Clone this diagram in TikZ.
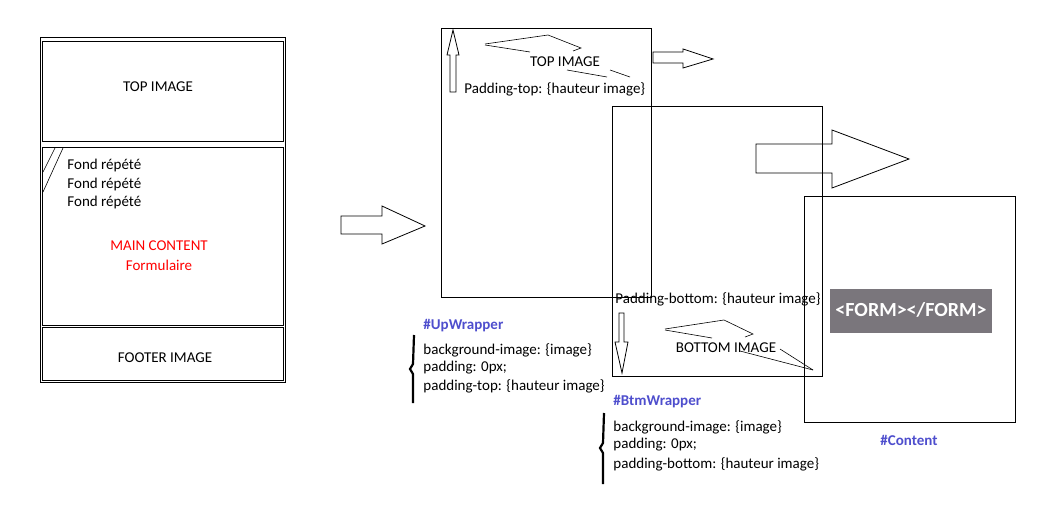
\documentclass[tikz,border=0pt]{standalone}
\usepackage{fontspec}
\setmainfont{Carlito}
\usetikzlibrary{calc}
\definecolor{cssblue}{RGB}{78,78,205}
\definecolor{formgray}{RGB}{122,118,124}

\begin{document}
\begin{tikzpicture}[x=1pt, y=-1pt, line width=0.9pt,
  every node/.style={font=\fontsize{15}{17}\selectfont, inner sep=0pt},
  txt/.style={anchor=west},
  cssid/.style={anchor=west, text=cssblue, font=\fontsize{15}{17}\selectfont\bfseries},
  blockarrow/.style={line width=0.8pt, line join=miter},
  scribble/.style={line width=0.6pt}]
  \useasboundingbox (0,0) rectangle (1048,508);

  % maquette de gauche
  \draw (40,37) rectangle (285,382);
  \draw (42,41) rectangle (283,141);
  \draw (42,147) rectangle (283,325);
  \draw (42,327) rectangle (283,380);
  \draw[line width=0.6pt] (55,148) -- (43,172);
  \draw[line width=0.6pt] (63,148) -- (43,192);
  \node (topimg) at (158,87) {TOP IMAGE};
  \node[txt] (fond1) at (67,166) {Fond répété};
  \node[txt] (fond2) at (67,184) {Fond répété};
  \node[txt] (fond3) at (67,202) {Fond répété};
  \node[text=red] (main) at (159,246) {MAIN CONTENT};
  \node[text=red] (formu) at (159,265) {Formulaire};
  \node (footer) at (165,358) {FOOTER IMAGE};

  % fleche vers la decomposition
  \draw[blockarrow] (341,216) -- (382,216) -- (382,206) -- (425,226)
    -- (382,244) -- (382,234) -- (341,234) -- cycle;

  % #UpWrapper
  \draw (441,28) rectangle (651,297);
  \draw[blockarrow] (450,92) -- (450,55) -- (447,55) -- (453,30)
    -- (459,55) -- (456,55) -- (456,92) -- cycle;
  \draw[scribble] (485,44) -- (548,35) -- (581,48) -- (573,51);
  \draw[scribble] (485,45) -- (530,52);
  \draw[scribble] (567,70) -- (607,77);
  \draw[scribble] (610,70) -- (630,77);
  \node (upimg) at (565,62) {TOP IMAGE};
  \node[txt] (padtop) at (464,89) {Padding-top: \{hauteur image\}};
  \draw[blockarrow] (653,52) -- (683,52) -- (683,49) -- (713,59)
    -- (683,68) -- (683,63) -- (653,63) -- cycle;

  % #BtmWrapper
  \draw (612,106) rectangle (822,376);
  \draw[blockarrow] (619,313) -- (624,313) -- (624,342) -- (628,342)
    -- (622,373) -- (615,342) -- (619,342) -- cycle;
  \draw[scribble] (665,329) -- (724,320) -- (753,334) -- (745,337);
  \draw[scribble] (665,330) -- (712,338);
  \draw[scribble] (740,351) -- (813,370);
  \draw[scribble] (780,349) -- (813,370);
  \node (btmimg) at (726,348) {BOTTOM IMAGE};
  \node[txt] (padbtm) at (615,299) {Padding-bottom: \{hauteur image\}};
  \draw[blockarrow] (756,144) -- (832,144) -- (832,130) -- (909,159)
    -- (832,188) -- (832,173) -- (756,173) -- cycle;

  % #Content
  \draw (804,196) rectangle (1015,422);
  \fill[formgray] (830,289) rectangle (992,333);
  \node[text=white, font=\fontsize{20}{22}\selectfont\bfseries] (form) at (911,310) {<FORM></FORM>};
  \node[text=cssblue, font=\fontsize{15}{17}\selectfont\bfseries] (content) at (909,440) {\#Content};

  % regles css
  \node[cssid] (upid) at (423,326) {\#UpWrapper};
  \draw[line width=2.2pt] (414,335) -- (413,364) -- (410,369) -- (413,374) -- (413,403);
  \node[txt] (up1) at (423,350) {background-image: \{image\}};
  \node[txt] (up2) at (423,368) {padding: 0px;};
  \node[txt] (up3) at (423,386) {padding-top: \{hauteur image\}};

  \node[cssid] (btmid) at (613,402) {\#BtmWrapper};
  \draw[line width=2.2pt] (604,413) -- (603,443) -- (600,448) -- (603,453) -- (603,484);
  \node[txt] (btm1) at (613,427) {background-image: \{image\}};
  \node[txt] (btm2) at (613,445) {padding: 0px;};
  \node[txt] (btm3) at (613,464) {padding-bottom: \{hauteur image\}};
\end{tikzpicture}
\end{document}
